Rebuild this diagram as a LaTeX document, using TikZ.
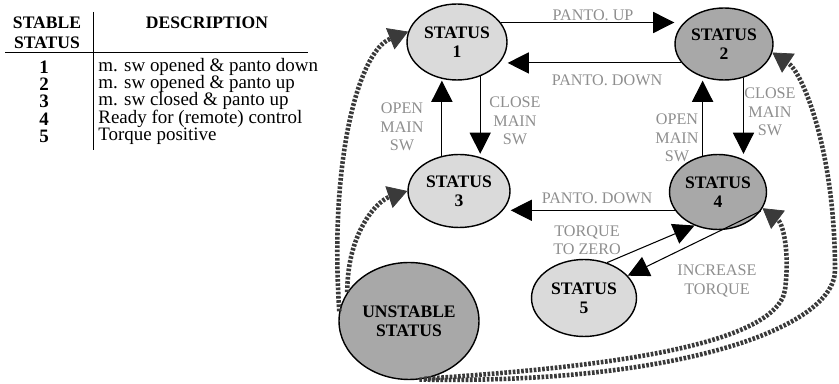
\documentclass[tikz,border=0pt]{standalone}
\usepackage{fontspec}
\setmainfont{Liberation Serif}
\usepackage{tikz}
\usetikzlibrary{arrows.meta, shapes.geometric, calc}
\definecolor{labelgray}{HTML}{8E8E8E}
\definecolor{dotlight}{HTML}{DADADA}
\definecolor{dotdark}{HTML}{A8A8A8}
\definecolor{stipple}{HTML}{3A3A3A}

\begin{document}
\begin{tikzpicture}[x=0.02cm, y=-0.02cm,
      every node/.style={font=\fontsize{10.8}{12}\selectfont},
      state/.style={ellipse, draw=black, thick, inner sep=0pt, align=center,
                    font=\fontsize{10}{11}\selectfont\bfseries},
      lightstate/.style={state, fill=dotlight},
      darkstate/.style={state, fill=dotdark},
      head/.style={font=\fontsize{10}{11.3}\selectfont\bfseries, align=center},
      num/.style={font=\fontsize{10.8}{12}\selectfont\bfseries, inner sep=0pt},
      desc/.style={anchor=west, inner sep=0pt},
      lbl/.style={text=labelgray, align=center, inner sep=0pt,
                  font=\fontsize{9.2}{10.5}\selectfont},
      arr/.style={-{Triangle[length=12pt, width=12pt]}, semithick},
      stip/.style={-{Triangle[length=11pt, width=13pt, line width=0.4pt, fill=stipple]},
                   draw=stipple, line width=2.6pt, dash pattern=on 1.5pt off 0.9pt},
    ]
    \useasboundingbox (0,0) rectangle (839,384);

    \node[head] (colstat) at (47,33) {STABLE\\STATUS};
    \node[head] (coldesc) at (207,23) {DESCRIPTION};
    \draw (5,52) -- (308,52);
    \draw (93,12) -- (93,150);
    \node[num] (n1) at (44,67)  {1};
    \node[num] (n2) at (44,84)  {2};
    \node[num] (n3) at (44,101) {3};
    \node[num] (n4) at (44,119) {4};
    \node[num] (n5) at (44,136) {5};
    \node[desc] (d1) at (98,67)  {m. sw opened \& panto down};
    \node[desc] (d2) at (98,84)  {m. sw opened \& panto up};
    \node[desc] (d3) at (98,101) {m. sw closed \& panto up};
    \node[desc] (d4) at (98,119) {Ready for (remote) control};
    \node[desc] (d5) at (98,136) {Torque positive};

    \node[lightstate, minimum width=2.00cm, minimum height=1.52cm] (s1) at (457,42)  {STATUS\\1};
    \node[darkstate,  minimum width=1.96cm, minimum height=1.44cm] (s2) at (724,44)  {STATUS\\2};
    \node[lightstate, minimum width=2.04cm, minimum height=1.46cm] (s3) at (459,191) {STATUS\\3};
    \node[darkstate,  minimum width=1.94cm, minimum height=1.50cm] (s4) at (718,192) {STATUS\\4};
    \node[lightstate, minimum width=2.10cm, minimum height=1.54cm] (s5) at (584,298) {STATUS\\5};
    \node[darkstate,  minimum width=2.80cm, minimum height=2.34cm] (un) at (409,321) {UNSTABLE\\STATUS};

    \draw[arr] (s1.24) -- (s1.24 -| s2.west);
    \draw[arr] (s2.204) -- (s2.204 -| s1.east);
    \draw[arr] (s1.-56) -- (s1.-56 |- s3.north);
    \draw[arr] (s3.116) -- (s3.116 |- s1.south);
    \draw[arr] (s2.-60) -- (s2.-60 |- s4.north);
    \draw[arr] (s4.113) -- (s4.113 |- s2.south);
    \draw[arr] (s4.203) -- (s4.203 -| s3.east);
    \draw[arr] (s5.57) -- (s4.235);
    \draw[arr] (s4.-24) -- (s5.27);

    \node[lbl] (pup)    at (593,15)  {PANTO. UP};
    \node[lbl] (pdown)  at (607,80)  {PANTO. DOWN};
    \node[lbl] (open1)  at (402,127) {OPEN\\MAIN\\SW};
    \node[lbl] (close1) at (515,121) {CLOSE\\MAIN\\SW};
    \node[lbl] (open2)  at (677,138) {OPEN\\MAIN\\SW};
    \node[lbl] (close2) at (770,112) {CLOSE\\MAIN\\SW};
    \node[lbl] (pdown2) at (597,198) {PANTO. DOWN};
    \node[lbl] (tzero)  at (587,240) {TORQUE\\TO ZERO};
    \node[lbl] (tinc)   at (717,281) {INCREASE\\TORQUE};

    \draw[stip] (un.155) .. controls +(0,-60) and +(-30,10) .. (s3.west);
    \draw[stip] (un.172) .. controls +(-10,-150) and +(-50,20) .. (s1.168);
    \draw[stip] (un.-75) .. controls +(150,-10) and +(-10,60) .. (785,290)
                         .. controls +(5,-40) and +(20,15) .. (s4.-20);
    \draw[stip] (un.-80) .. controls +(250,5) and +(0,60) .. (835,270)
                         .. controls +(0,-120) and +(30,20) .. (s2.-10);
\end{tikzpicture}
\end{document}
